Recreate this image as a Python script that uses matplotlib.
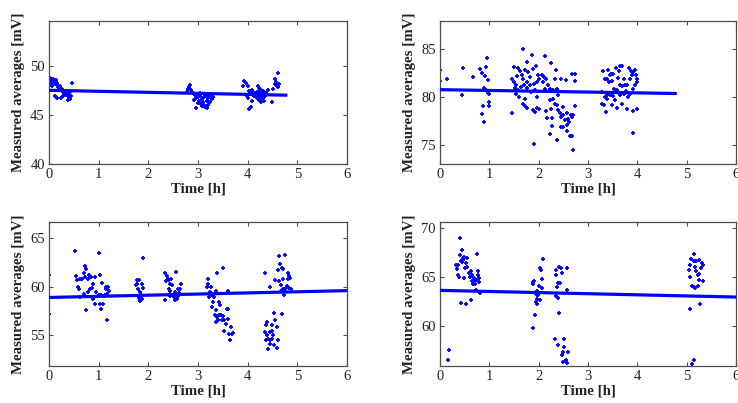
import matplotlib
matplotlib.use("Agg")
import matplotlib.pyplot as plt

plt.rcParams['font.family'] = ['Liberation Serif', 'DejaVu Serif']

# ---------------- data ----------------
tl_time = [0.00,0.02,0.05,0.09,0.11,0.14,0.04,0.16,0.19,0.18,0.22,0.25,0.29,0.33,0.36,0.39,0.43,0.46,0.40,0.34,0.29,0.24,0.16,0.12,0.38,0.45,0.31,0.06,0.00,0.08,0.13,0.26,0.42,
           2.84,2.80,2.86,2.77,2.89,2.93,2.95,2.91,2.99,3.02,3.04,3.08,3.11,3.13,3.16,3.18,3.21,3.25,3.28,3.09,3.14,3.18,2.95,2.97,3.04,3.13,3.25,2.82,3.00,3.06,3.20,3.23,3.30,
           3.92,3.96,3.90,4.00,4.03,4.06,4.09,4.13,4.16,4.20,4.23,4.26,4.30,4.33,4.37,4.40,4.18,4.09,4.06,4.03,4.22,4.28,4.61,4.56,4.58,4.60,4.64,4.51,4.50,4.26,4.33,3.96,4.00,4.12,4.15,4.18,4.21,4.24,4.27,4.30,4.32,4.35,4.25,4.20,4.22,4.55,4.62]
tl_mv = [48.57,48.7,48.47,48.64,48.37,48.57,48.23,48.23,48.03,47.79,47.9,47.69,47.55,47.35,47.21,47.0,47.28,48.23,46.77,47.0,46.87,46.67,46.67,46.87,46.53,46.94,47.21,47.96,47.96,48.3,48.1,47.4,46.6,
         48.03,47.62,47.52,47.35,47.21,47.0,46.67,46.53,46.77,46.43,46.94,46.6,46.26,46.77,47.0,46.43,46.67,46.87,46.6,45.92,45.75,45.65,45.65,47.11,47.21,45.99,46.26,47.8,46.2,46.1,46.0,47.1,46.8,
         48.47,48.23,47.96,47.89,47.45,47.28,47.55,47.21,47.0,47.35,46.94,47.11,47.45,46.77,47.21,47.52,46.67,46.43,45.75,45.58,46.53,46.67,49.3,48.64,48.3,47.96,48.13,47.62,46.33,46.26,46.43,47.0,46.67,46.9,47.1,47.3,46.8,47.2,46.9,47.0,47.3,46.9,47.6,47.9,47.7,48.1,47.8]
tl_fit_time = [0.0, 4.8]
tl_fit_mv = [47.5, 47.0]

tr_time = [0.00,0.00,0.14,0.44,0.47,0.66,0.82,0.86,0.93,0.96,0.91,0.97,0.90,0.93,0.97,0.99,0.95,0.88,0.99,0.99,0.86,0.89,
           1.49,1.46,1.50,1.54,1.57,1.59,1.62,1.66,1.68,1.69,1.70,1.72,1.76,1.77,1.79,1.82,1.86,1.88,1.91,1.95,1.96,1.99,2.01,
           1.46,1.61,1.72,1.69,1.72,1.77,1.89,1.93,1.96,2.01,1.91,1.52,1.58,1.65,1.77,1.82,1.92,1.97,1.55,1.85,
           2.13,2.24,2.35,2.06,2.11,2.15,2.08,2.18,2.13,2.22,2.30,2.37,2.40,2.33,2.45,2.55,2.67,2.74,2.74,
           2.23,2.26,2.30,2.33,2.38,2.40,2.43,2.45,2.49,2.50,2.53,2.57,2.60,2.65,2.68,2.70,2.73,2.16,2.15,2.28,2.27,2.45,2.50,2.57,2.61,2.58,2.64,2.68,2.22,2.38,2.70,
           3.28,3.31,3.38,3.41,3.45,3.46,3.43,3.35,3.48,3.57,3.62,3.65,3.69,3.60,3.64,3.68,3.75,3.80,3.84,3.87,3.89,3.92,3.95,3.97,3.99,4.00,3.95,3.91,3.85,3.82,3.77,3.72,3.64,3.58,3.53,3.45,3.38,3.35,
           3.28,3.33,3.38,3.48,3.50,3.55,3.58,3.68,3.80,3.91,4.00,3.85,3.73,3.51,3.37,3.91]
tr_mv = [82.8,81.6,81.9,80.2,83.0,82.1,82.9,82.5,83.1,84.0,82.2,81.8,80.9,80.7,80.4,80.3,80.6,79.1,79.5,79.1,78.2,77.4,
         83.07,81.9,81.55,81.2,82.2,83.0,82.65,82.25,85.0,81.9,81.2,82.75,81.55,83.6,82.6,82.05,84.3,82.9,81.3,83.2,81.55,82.25,81.9,
         78.35,79.97,79.83,79.3,79.07,78.8,78.6,78.4,78.8,78.7,75.1,80.9,80.7,81.0,80.9,81.2,80.7,80.0,80.3,80.5,
         84.24,83.48,82.83,82.3,82.07,81.83,81.55,81.2,80.86,80.86,80.69,80.86,80.17,81.9,81.9,81.72,82.41,82.41,81.62,
         79.66,78.79,79.83,79.31,79.14,78.62,78.28,77.93,78.97,78.1,77.59,78.28,77.69,78.1,77.93,78.17,79.07,77.76,78.52,77.76,77.0,76.9,76.9,77.07,77.34,76.41,75.97,75.9,76.1,75.52,74.48,
         80.52,82.66,81.9,82.76,82.24,82.41,81.55,81.9,81.62,83.0,82.66,83.17,83.2,81.97,81.2,81.14,81.2,81.28,83.0,82.72,82.24,82.59,82.76,82.24,81.9,81.55,81.2,80.86,80.34,80.0,80.59,80.34,80.24,80.69,80.86,80.24,80.17,80.0,
         79.31,79.14,79.76,79.14,80.1,79.66,78.86,79.31,78.72,78.52,78.72,81.9,81.9,82.41,78.38,76.21]
tr_fit_time = [0.0, 4.8]
tr_fit_mv = [80.75, 80.35]

bl_time = [0.01,0.01,0.53,1.00,0.54,0.56,0.58,0.60,0.62,0.67,0.71,0.73,0.75,0.72,0.78,0.81,0.85,0.88,0.87,0.92,0.83,0.78,0.71,0.75,0.92,0.94,1.03,1.07,1.00,1.05,1.10,1.03,1.09,1.05,1.14,1.19,1.15,1.21,1.17,1.12,1.17,0.88,0.62,
           1.77,1.82,1.78,1.75,1.87,1.80,1.83,1.85,1.82,1.87,1.83,1.90,1.89,
           2.34,2.38,2.39,2.41,2.36,2.43,2.55,2.46,2.48,2.41,2.44,2.48,2.51,2.53,2.57,2.59,2.61,2.65,2.34,2.44,2.59,2.63,2.53,
           3.20,3.20,3.18,3.26,3.38,3.50,3.25,3.29,3.22,3.33,3.31,3.29,3.36,3.43,3.45,3.34,3.38,3.43,3.46,3.50,3.41,3.36,3.48,3.53,3.58,3.61,3.56,3.60,3.67,3.68,3.63,3.70,3.65,3.53,3.60,3.36,
           4.34,4.45,4.54,4.70,4.38,4.36,4.48,4.56,4.60,4.34,4.38,4.45,4.48,4.40,4.36,4.45,4.50,4.53,4.41,4.60,4.45,4.62,4.51,
           4.64,4.75,4.65,4.70,4.62,4.72,4.81,4.83,4.81,4.85,4.72,4.56,4.63,4.68,4.79,4.83,4.75,4.72,4.87,4.74,4.68]
bl_mv = [61.16,57.23,63.66,63.39,61.1,60.65,59.97,59.73,60.75,60.75,61.34,62.12,61.85,60.99,60.82,61.16,60.99,60.21,59.86,60.99,59.79,59.45,59.28,57.57,58.25,59.45,61.23,60.41,59.18,59.18,59.04,58.25,58.25,57.74,59.97,59.97,59.73,59.52,59.28,59.11,56.61,58.77,58.9,
         60.65,60.65,60.31,60.14,60.31,59.79,59.45,59.11,58.84,58.7,58.49,62.88,59.86,
         61.34,61.1,60.82,60.65,60.55,60.31,61.51,60.75,60.14,59.73,59.52,59.11,58.94,58.6,58.77,59.73,59.38,60.31,58.6,59.04,59.04,59.73,59.45,
         60.75,60.31,59.97,59.97,61.34,61.92,59.45,59.11,58.94,58.94,58.42,57.91,57.57,58.42,58.15,57.05,56.88,57.05,57.12,56.99,56.54,56.37,56.54,56.54,57.74,57.67,56.2,56.71,55.86,55.17,55.17,55.27,54.49,55.41,59.55,59.52,
         61.34,59.97,57.33,57.23,56.37,56.1,56.03,56.54,55.86,55.34,55.0,55.34,55.41,54.66,54.49,54.49,54.66,54.04,53.56,53.7,54.14,54.49,55.0,
         63.15,63.22,62.36,61.92,61.68,61.85,61.34,61.1,60.82,60.89,60.82,60.65,60.55,60.14,60.07,59.86,59.79,59.73,59.73,59.18,59.52]
bl_fit_time = [0.0, 6.0]
bl_fit_mv = [58.88, 59.58]

br_time = [0.41,0.44,0.41,0.46,0.47,0.49,0.44,0.42,0.37,0.34,0.32,0.53,0.54,0.55,0.51,0.59,0.62,0.64,0.61,0.68,0.69,0.64,0.73,0.78,0.78,0.76,0.80,0.80,0.71,0.66,0.49,0.37,0.39,0.73,0.81,0.62,0.42,0.53,0.19,0.16,
           1.88,1.89,1.91,2.03,2.04,2.09,2.06,2.01,2.06,1.96,1.93,1.96,1.99,1.96,1.95,1.97,2.03,1.93,1.89,
           2.36,2.42,2.45,2.36,2.47,2.58,2.40,2.43,2.38,2.57,2.36,2.40,2.42,2.33,2.51,2.40,2.51,2.49,2.60,2.47,2.55,2.58,2.49,
           5.15,5.08,5.14,5.19,5.26,5.31,5.33,5.29,5.06,5.04,5.17,5.19,5.22,5.26,5.07,5.10,5.14,5.17,5.22,5.26,5.34,5.27,5.07,5.14,5.10]
br_mv = [68.97,67.78,67.27,66.93,66.76,67.0,66.53,66.59,66.25,65.85,66.25,66.42,65.98,66.93,65.92,65.41,65.58,65.24,64.97,64.9,64.63,64.56,64.73,65.24,65.58,67.34,64.9,64.49,64.29,64.29,64.9,65.24,64.97,63.71,63.37,62.69,62.36,62.29,57.54,56.59,
         64.49,64.29,64.63,65.92,65.75,66.83,64.83,64.05,63.88,63.61,63.37,63.2,63.14,62.8,62.46,62.25,62.69,61.17,59.81,
         65.75,65.98,65.92,65.17,65.41,65.92,64.39,64.39,63.95,63.71,63.03,62.86,61.34,58.63,58.63,58.05,57.85,57.37,57.37,57.03,56.49,56.22,56.36,
         67.34,66.86,66.66,66.66,66.76,66.42,66.19,65.92,66.25,65.75,65.98,65.64,65.17,65.31,64.97,64.05,63.95,63.88,64.08,64.73,64.63,62.25,61.75,56.59,56.15]
br_fit_time = [0.0, 6.0]
br_fit_mv = [63.63, 62.95]

x_ticks = [0, 1, 2, 3, 4, 5, 6]
xlabel_text = "Time [h]"
ylabel_text = "Measured averages [mV]"

panels = [
    (tl_time, tl_mv, tl_fit_time, tl_fit_mv, (40.0, 54.55), [40, 45, 50]),
    (tr_time, tr_mv, tr_fit_time, tr_fit_mv, (73.03, 87.88), [75, 80, 85]),
    (bl_time, bl_mv, bl_fit_time, bl_fit_mv, (51.85, 66.65), [55, 60, 65]),
    (br_time, br_mv, br_fit_time, br_fit_mv, (55.93, 70.62), [60, 65, 70]),
]

W, H = 738, 403
fig = plt.figure(figsize=(W / 100, H / 100), dpi=100)
rects = [
    (49 / W, (H - 164) / H, 298 / W, 143 / H),
    (440 / W, (H - 164) / H, 296 / W, 143 / H),
    (49 / W, (H - 366) / H, 298 / W, 144.3 / H),
    (440 / W, (H - 366) / H, 296 / W, 144.3 / H),
]

blue = '#0000ff'
axc = '#4d4d4d'
for rect, (t, v, ft, fv, ylim, yt) in zip(rects, panels):
    ax = fig.add_axes(rect)
    ax.plot(t, v, linestyle='none', marker='+', markersize=3.2, markeredgewidth=1.3, color=blue, zorder=2)
    ax.plot(ft, fv, color=blue, linewidth=2.3, zorder=3, solid_capstyle='butt')
    ax.set_xlim(0, 6)
    ax.set_ylim(*ylim)
    ax.set_xticks(x_ticks)
    ax.set_yticks(yt)
    ax.tick_params(direction='in', length=3, width=0.8, colors=axc, labelcolor='#222222',
                   labelsize=10.5, top=True, right=True, pad=3)
    for s in ax.spines.values():
        s.set_color(axc)
        s.set_linewidth(0.9)
    ax.set_xlabel(xlabel_text, fontsize=10.7, fontweight='bold', color='#222222', labelpad=1)
    ax.set_ylabel(ylabel_text, fontsize=10.7, fontweight='bold', color='#222222', labelpad=4)

fig.savefig('out.png', dpi=100)
